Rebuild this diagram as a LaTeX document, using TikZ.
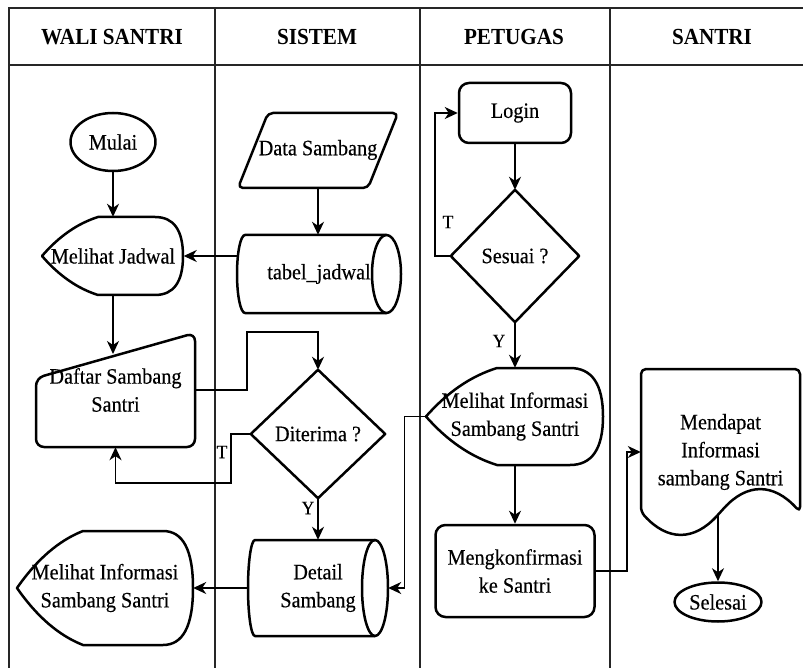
\documentclass[tikz,border=0pt]{standalone}
\usepackage{fontspec}
\setmainfont{Liberation Serif}[FakeStretch=0.92, UprightFeatures={FakeBold=0.3}]
\usetikzlibrary{arrows.meta,shapes.geometric,calc}
\newcommand{\dispshape}[6]{% #1 xl, #2 a, #3 b, #4 xr, #5 yt, #6 yb
  \draw[shp] (#2,#5) -- (#3,#5)
    .. controls ({#3+2/3*(#4-#3)},#5) and (#4,{(#5+#6)/2-(#6-#5)/3}) .. (#4,{(#5+#6)/2})
    .. controls (#4,{(#5+#6)/2+(#6-#5)/3}) and ({#3+2/3*(#4-#3)},#6) .. (#3,#6)
    -- (#2,#6)
    .. controls ({#2-0.3667*(#2-#1)},{#6-0.0833*(#6-#5)}) and ({#1+0.3*(#2-#1)},{(#5+#6)/2+0.25*(#6-#5)}) .. (#1,{(#5+#6)/2})
    .. controls ({#1+0.3*(#2-#1)},{(#5+#6)/2-0.25*(#6-#5)}) and ({#2-0.3667*(#2-#1)},{#5+0.0833*(#6-#5)}) .. cycle;}
\newcommand{\hcyl}[6]{% #1 xl, #2 xr, #3 yt, #4 yb, #5 rl, #6 rr
  \draw[shp] ({#2-#6},#3) -- ({#1+#5},#3)
    .. controls ({#1+#5-0.5523*#5},#3) and (#1,{(#3+#4)/2-0.5523*(#4-#3)/2}) .. (#1,{(#3+#4)/2})
    .. controls (#1,{(#3+#4)/2+0.5523*(#4-#3)/2}) and ({#1+#5-0.5523*#5},#4) .. ({#1+#5},#4)
    -- ({#2-#6},#4);
  \draw[shp] ({#2-#6},{(#3+#4)/2}) ellipse [x radius=#6, y radius={(#4-#3)/2}];}
\begin{document}
\begin{tikzpicture}[x=1pt,y=-1pt,
  every node/.style={font=\fontsize{22}{28}\selectfont, align=center, inner sep=0pt},
  shp/.style={draw=black, line width=2.5pt, line join=round},
  conn/.style={draw=black, line width=1.6pt, -{Stealth[length=13pt,width=12pt,inset=4pt]}},
  lane/.style={draw=black!85, line width=1.4pt},
  hdr/.style={font=\bfseries\fontsize{23}{26}\selectfont},
  lbl/.style={font=\fontsize{19}{22}\selectfont},
  rbox/.style={shp, rounded corners=10pt},
]
\useasboundingbox (0,0) rectangle (803,668);
\fill[white] (0,0) rectangle (803,668);

% swimlanes
\draw[lane] (9,668) -- (9,8) -- (803,8);
\draw[lane] (9,65) -- (803,65);
\draw[lane] (215,8) -- (215,668);
\draw[lane] (420,8) -- (420,668);
\draw[lane] (610,8) -- (610,668);

\node[hdr] (h1) at (112,37) {WALI SANTRI};
\node[hdr] (h2) at (317,37) {SISTEM};
\node[hdr] (h3) at (514,37) {PETUGAS};
\node[hdr] (h4) at (712,37) {SANTRI};

% WALI SANTRI
\node[ellipse, shp, minimum width=85pt, minimum height=58pt] (mulai) at (113,142) {Mulai};
\node[minimum width=141pt, minimum height=78pt] (mj) at (113,256) {Melihat Jadwal};
\dispshape{42}{98}{155}{183}{217}{295}
\node[minimum width=159pt, minimum height=114pt] (dsa) at (115.5,390) {Daftar Sambang\\Santri};
\draw[shp, rounded corners=8pt] (36,378) -- (195,333) -- (195,447) -- (36,447) -- cycle;
\node[minimum width=176pt, minimum height=114pt] (mi1) at (105,588) {Melihat Informasi\\Sambang Santri};
\dispshape{17}{83}{163}{193}{531}{645}

% SISTEM
\node[minimum width=160pt, minimum height=75pt] (ds) at (318,150) {Data Sambang};
\draw[shp, rounded corners=5pt] (268,113) -- (398,113) -- (368,188) -- (238,188) -- cycle;
\node[minimum width=164pt, minimum height=78pt] (tj) at (319,274) {tabel\_jadwal};
\hcyl{237}{401}{235}{313}{8}{14.5}
\node[minimum width=134pt, minimum height=128pt] (dit) at (318,434) {Diterima ?};
\draw[shp] (dit.north) -- (dit.east) -- (dit.south) -- (dit.west) -- cycle;
\node[minimum width=140pt, minimum height=96pt] (det) at (318,588) {Detail\\Sambang};
\hcyl{248}{388}{540}{636}{7}{13}

% PETUGAS
\node[rbox, minimum width=112pt, minimum height=60pt] (lg) at (515,113) {Login};
\node[minimum width=128pt, minimum height=132pt] (ss) at (515,256) {Sesuai ?};
\draw[shp] (ss.north) -- (ss.east) -- (ss.south) -- (ss.west) -- cycle;
\node[minimum width=177pt, minimum height=97pt] (mi2) at (515,416.5) {Melihat Informasi\\Sambang Santri};
\dispshape{426}{497}{570}{603}{368}{465}
\node[rbox, minimum width=159pt, minimum height=92pt] (mk) at (515,571) {Mengkonfirmasi\\ke Santri};

% SANTRI
\node[minimum width=159pt, minimum height=166pt] (doc) at (720.5,452) {Mendapat\\Informasi\\sambang Santri};
\draw[shp, rounded corners=5pt] (641,512) -- (641,369) -- (800,369) -- (800,512)
  .. controls (773.5,482.7) and (747,482.7) .. (720.5,512)
  .. controls (694,541.3) and (667.5,541.3) .. (641,512) -- cycle;
\node[ellipse, shp, minimum width=87pt, minimum height=39pt] (sel) at (718,602) {Selesai};

% connectors
\coordinate (dtop) at (113,354);
\coordinate (c1) at (247,332);
\coordinate (docb) at (718,516);
\draw[conn] (mulai.south) -- (mulai.south |- mj.north);
\draw[conn] (ds.south) -- (ds.south |- tj.north);
\draw[conn] (tj.west |- mj.east) -- (mj.east);
\draw[conn] (mj.south) -- (dtop);
\draw[conn] (dsa.east) -| (c1) -| (dit.north);
\draw[conn] (dit.west) -- ++(-20,0) |- ($(dsa.south)+(0,36)$) -- (dsa.south);
\draw[conn] (dit.south) -- (det.north);
\draw[conn] (det.west) -- (mi1.east);
\draw[conn] (lg.south) -- (ss.north);
\draw[conn] (ss.west) -- ++(-16,0) |- (lg.west);
\draw[conn] (ss.south) -- (mi2.north);
\draw[conn] (mi2.west) -- ++(-22,0) |- (det.east);
\draw[conn] (mi2.south) -- (mk.north);
\draw[conn] (mk.east) -- ++(31,0) |- (doc.west);
\draw[conn] (docb) -- (sel.north);

% labels
\node[lbl] (t1) at (222,452) {T};
\node[lbl] (t2) at (448,222) {T};
\node[lbl] (y1) at (308,508) {Y};
\node[lbl] (y2) at (499,341) {Y};
\end{tikzpicture}
\end{document}
